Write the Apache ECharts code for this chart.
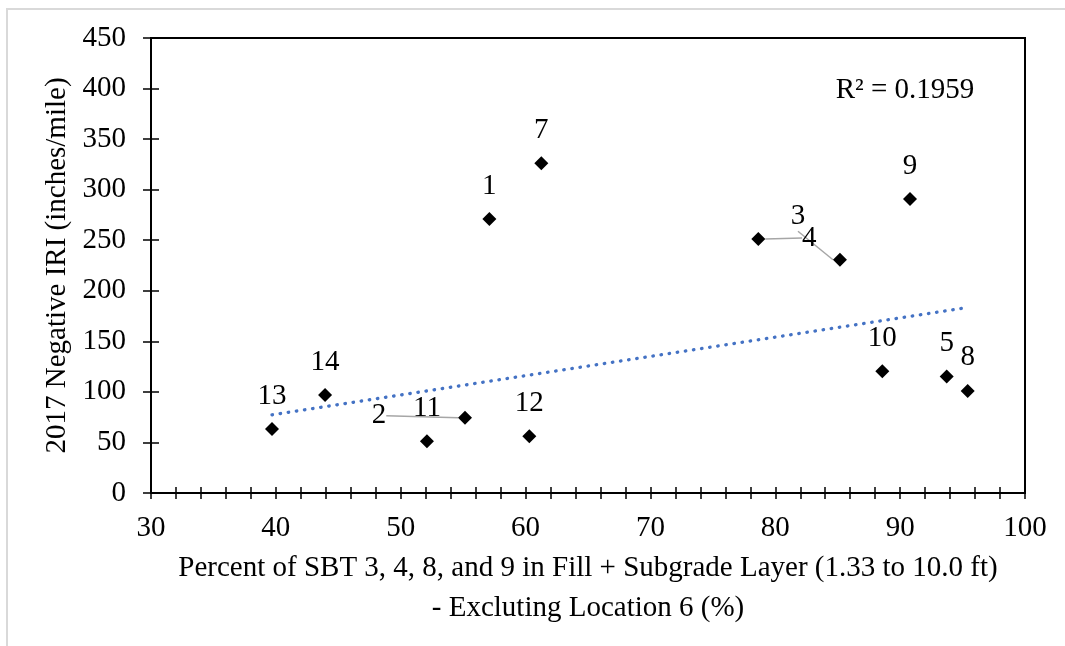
<!DOCTYPE html>
<html>
<head>
<meta charset="utf-8">
<script src="https://cdn.jsdelivr.net/npm/echarts@6/dist/echarts.min.js"></script>
<style>
html,body{margin:0;padding:0;background:#fff;}
#chart{width:1065px;height:646px;}
</style>
</head>
<body>
<div id="chart"></div>
<script>
// ---- data ----
const pointNames = ['1', '2', '3', '4', '5', '7', '8', '9', '10', '11', '12', '13', '14'];
const xValues = [57.1, 55.15, 85.18, 78.64, 93.73, 61.26, 95.41, 90.79, 88.57, 52.1, 60.3, 39.69, 43.94];
const yValues = [271, 74.3, 230.7, 251.2, 115.3, 326.2, 101, 290.8, 120.5, 51.2, 56.1, 63.4, 96.8];
const trendX = [39.69, 95.41];
const trendY = [77.3, 183.5];
const rSquaredText = 'R² = 0.1959';
const xTitle = 'Percent of SBT 3, 4, 8, and 9 in Fill + Subgrade Layer (1.33 to 10.0 ft)\n- Excluting Location 6 (%)';
const yTitle = '2017 Negative IRI (inches/mile)';

// label moves (leader-lined labels), in pixels
const labelMoves = { '2': [-86, 31], '3': [-42, -10], '4': [51, 32] };

const FONT = 'Liberation Serif';
const FS = 29;

const chart = echarts.init(document.getElementById('chart'));
const scatterData = pointNames.map((n, i) => {
  const item = { name: n, value: [xValues[i], yValues[i]] };
  if (labelMoves[n]) item.labelLine = { show: true };
  return item;
});
const trendData = trendX.map((x, i) => [x, trendY[i]]);

const tickAxisCommon = {
  type: 'value', min: 30, max: 100, interval: 2
};

chart.setOption({
  animation: false,
  grid: { left: 151, right: 40, top: 38, bottom: 153, show: true, borderColor: '#000', borderWidth: 2, backgroundColor: 'transparent' },
  graphic: [
    { type: 'rect', shape: { x: 7, y: 9, width: 1100, height: 700 }, style: { fill: 'none', stroke: '#d9d9d9', lineWidth: 2 }, z: -10, silent: true },
    { type: 'text', x: 905, y: 90, style: { text: rSquaredText, font: FS + 'px "' + FONT + '"', fill: '#000', textAlign: 'center', textVerticalAlign: 'middle' } }
  ],
  xAxis: [
    Object.assign({}, tickAxisCommon, {
      position: 'bottom',
      axisLine: { show: true, lineStyle: { color: '#000', width: 2 } },
      axisTick: { show: true, inside: false, length: 6, lineStyle: { color: '#000', width: 1.5 } },
      axisLabel: { formatter: v => (v % 10 === 0 ? String(v) : ''), fontFamily: FONT, fontSize: FS, color: '#000', margin: 21 },
      splitLine: { show: false },
      name: xTitle, nameLocation: 'middle', nameGap: 54,
      nameTextStyle: { fontFamily: FONT, fontSize: FS, color: '#000', lineHeight: 40 }
    }),
    Object.assign({}, tickAxisCommon, {
      position: 'bottom',
      axisLine: { show: false },
      axisTick: { show: true, inside: true, length: 6, lineStyle: { color: '#000', width: 1.5 } },
      axisLabel: { show: false },
      splitLine: { show: false }
    })
  ],
  yAxis: [
    {
      type: 'value', min: 0, max: 450, interval: 50, position: 'left',
      axisLine: { show: true, lineStyle: { color: '#000', width: 2 } },
      axisTick: { show: true, inside: false, length: 8, lineStyle: { color: '#000', width: 1.5 } },
      axisLabel: { fontFamily: FONT, fontSize: FS, color: '#000', margin: 25 },
      splitLine: { show: false },
      name: yTitle, nameLocation: 'middle', nameGap: 79, nameRotate: 90,
      nameTextStyle: { fontFamily: FONT, fontSize: FS, color: '#000' }
    },
    {
      type: 'value', min: 0, max: 450, interval: 50, position: 'left',
      axisLine: { show: false },
      axisTick: { show: true, inside: true, length: 8, lineStyle: { color: '#000', width: 1.5 } },
      axisLabel: { show: false },
      splitLine: { show: false }
    }
  ],
  series: [
    {
      type: 'line', xAxisIndex: 0, yAxisIndex: 0, data: trendData,
      showSymbol: false, symbol: 'none', z: 1, silent: true,
      lineStyle: { color: '#4472C4', width: 3.3, type: [0.5, 7.7], cap: 'round' }
    },
    {
      type: 'scatter', xAxisIndex: 0, yAxisIndex: 0, data: scatterData,
      symbol: 'diamond', symbolSize: 14, z: 3,
      itemStyle: { color: '#000', opacity: 1 },
      label: {
        show: true, position: 'top', distance: 11.5,
        formatter: p => p.name,
        fontFamily: FONT, fontSize: FS, color: '#000'
      },
      labelLine: { show: false, lineStyle: { color: '#a6a6a6', width: 1.5 } },
      labelLayout: function (params) {
        const name = pointNames[params.dataIndex];
        const m = labelMoves[name];
        if (m) return { dx: m[0], dy: m[1] };
        return {};
      }
    }
  ]
});
</script>
</body>
</html>
